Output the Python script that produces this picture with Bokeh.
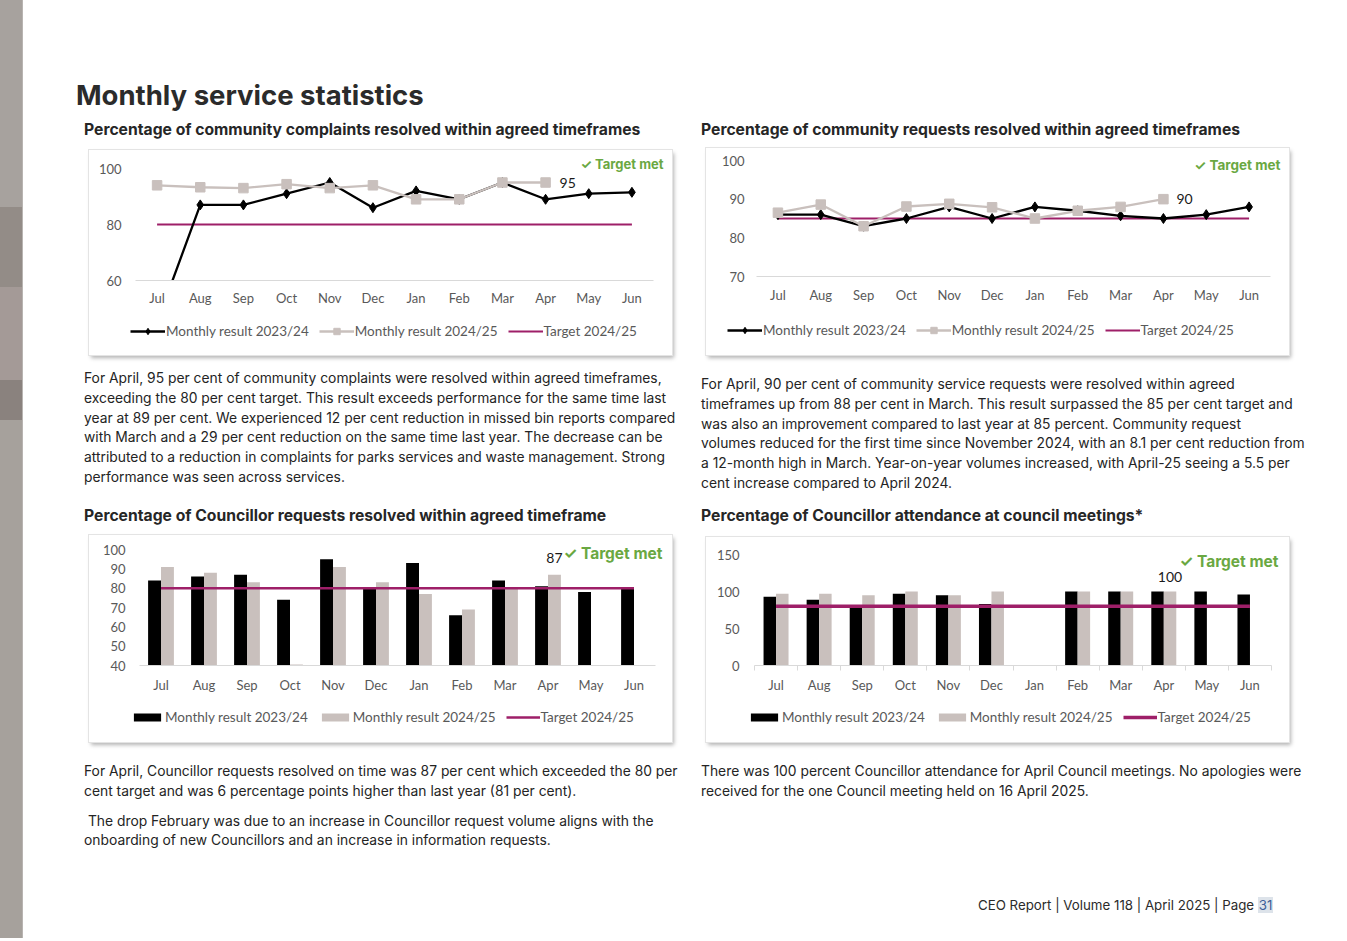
import numpy as np
from bokeh.plotting import figure
from bokeh.models import (Range1d, FixedTicker, Legend, LegendItem,
                          Label, Div, Spacer, ColumnDataSource)
from bokeh.layouts import row, column
from bokeh.transform import dodge
from bokeh.embed import file_html
from bokeh.resources import INLINE

nan = float("nan")

# ---------------- data ----------------
months = ["Jul", "Aug", "Sep", "Oct", "Nov", "Dec", "Jan", "Feb", "Mar", "Apr", "May", "Jun"]

complaints_2324 = [45, 87, 87, 91, 95, 86, 92, 89, 95, 89, 91, 91.5]
complaints_2425 = [94, 93.3, 93, 94.4, 93, 94, 89, 89, 95, 95, nan, nan]
complaints_target = [80, 80, 80, 80, 80, 80, 80, 80, 80, 80, 80, 80]

requests_2324 = [86, 86, 83, 85, 88, 85, 88, 87, 85.7, 85, 86, 88]
requests_2425 = [86.5, 88.6, 83, 88.1, 88.8, 87.9, 85, 87, 88, 90, nan, nan]
requests_target = [85, 85, 85, 85, 85, 85, 85, 85, 85, 85, 85, 85]

councillor_2324 = [84, 86, 87, 74, 95, 80, 93, 66, 84, 81, 78, 80]
councillor_2425 = [91, 88, 83, 40.5, 91, 83, 77, 69, 80, 87, nan, nan]
councillor_target = [80, 80, 80, 80, 80, 80, 80, 80, 80, 80, 80, 80]

attendance_2324 = [93, 89, 80, 97, 95, 83, nan, 100, 100, 100, 100, 96]
attendance_2425 = [97, 97, 95, 100, 95, 100, nan, 100, 100, 100, nan, nan]
attendance_target = [80, 80, 80, 80, 80, 80, 80, 80, 80, 80, 80, 80]

ticks_complaints = [60, 80, 100]
ticks_requests = [70, 80, 90, 100]
ticks_councillor = [40, 50, 60, 70, 80, 90, 100]
ticks_attendance = [0, 50, 100, 150]

legend_labels = ["Monthly result 2023/24", "Monthly result 2024/25", "Target 2024/25"]
target_met_text = "\u2713 Target met"

# category centres / boundaries on a numeric axis (one unit per month)
month_pos = [i + 0.5 for i in range(len(months))]
month_edges = [i for i in range(len(months) + 1)]

# ---------------- styles ----------------
BLACK = "#000000"
GREY = "#c9c0bd"
TARGET = "#9e1f68"
AXIS_TXT = "#595959"
GREEN = "#6aa842"
CHART_FONT = "Lato"
PAGE_FONT = "Inter, 'Open Sans', sans-serif"
CARD = {"box-shadow": "0 0 0 1px #e4e4e4, 2px 3px 4px rgba(0,0,0,0.30)"}


def base_fig(w, h, geo, ticks, y_standoff, x_standoff, edge_ticks=False):
    """geo = (cat_left, cat_span, bottom_px, top_px): pixel position (inside the card)
    of the month band and of the lowest / highest tick value.  The frame fills the
    whole card; the axes are pinned inside it."""
    cat_left, cat_span, bottom_px, top_px = geo
    n = len(months)
    ppx = cat_span / n
    y0, y1 = ticks[0], ticks[-1]
    ppy = (bottom_px - top_px) / (y1 - y0)
    x_start = -cat_left / ppx
    x_end = n + (w - cat_left - cat_span) / ppx
    y_end = y1 + top_px / ppy
    y_start = y0 - (h - bottom_px) / ppy
    p = figure(x_range=Range1d(x_start, x_end), y_range=Range1d(y_start, y_end),
               width=w, height=h, output_backend="svg", toolbar_location=None,
               min_border=0, outline_line_color=None, background_fill_color="white",
               border_fill_color="white", styles=CARD)
    p.xgrid.grid_line_color = None
    p.ygrid.grid_line_color = None
    p.yaxis.ticker = FixedTicker(ticks=ticks)
    p.xaxis.ticker = FixedTicker(ticks=month_pos, minor_ticks=month_edges)
    p.xaxis.major_label_overrides = {x: m for x, m in zip(month_pos, months)}
    p.xaxis.bounds = (0, n)
    p.xaxis.fixed_location = y0
    p.yaxis.fixed_location = 0
    for ax in (p.xaxis[0], p.yaxis[0]):
        ax.major_tick_line_color = None
        ax.minor_tick_line_color = None
        ax.major_tick_out = 0
        ax.major_tick_in = 0
        ax.minor_tick_in = 0
        ax.minor_tick_out = 0
        ax.major_label_text_font = CHART_FONT
        ax.major_label_text_font_size = "13px"
        ax.major_label_text_color = AXIS_TXT
    if edge_ticks:
        p.xaxis.minor_tick_line_color = "#d9d9d9"
        p.xaxis.minor_tick_out = 5
    p.xaxis.axis_line_color = "#d9d9d9"
    p.xaxis.major_label_standoff = x_standoff
    p.yaxis.axis_line_color = None
    p.yaxis.major_label_standoff = y_standoff
    return p


def add_legend(p, items, h, lx, center_px, gw, gh):
    ly = h - (center_px + gh / 2)
    leg = Legend(items=items, orientation="horizontal", location=(lx, ly),
                 background_fill_alpha=0, border_line_color=None, padding=0, margin=0,
                 spacing=10, glyph_width=gw, glyph_height=gh, label_height=gh,
                 label_standoff=1, label_text_font=CHART_FONT,
                 label_text_font_size="13.5px", label_text_color=AXIS_TXT)
    p.add_layout(leg)


def add_target_met(p, top_val, off, size):
    p.add_layout(Label(x=len(months), y=top_val, x_offset=off[0], y_offset=off[1],
                       text=target_met_text, text_align="right", text_baseline="middle",
                       text_font="Inter", text_font_size=size, text_font_style="bold",
                       text_color=GREEN))


def line_chart(a, b, t, w, h, geo, ticks, ys, xs, lx, lc, tm_off, tm_size, val_off):
    p = base_fig(w, h, geo, ticks, ys, xs)
    src = ColumnDataSource(dict(x=month_pos, a=a, b=b, t=t))
    lt = p.line("x", "t", source=src, line_color=TARGET, line_width=2)
    la = p.line("x", "a", source=src, line_color=BLACK, line_width=2.3)
    ma = p.scatter("x", "a", source=src, marker="diamond", size=10,
                   fill_color=BLACK, line_color=BLACK)
    lb = p.line("x", "b", source=src, line_color=GREY, line_width=2.3)
    mb = p.scatter("x", "b", source=src, marker="square", size=9.5,
                   fill_color=GREY, line_color=GREY)
    # white mask below the category axis (values under the axis minimum are cut off)
    p.quad(left=p.x_range.start, right=p.x_range.end, bottom=p.y_range.start,
           top=ticks[0], fill_color="white", line_color=None)
    add_legend(p, [LegendItem(label=legend_labels[0], renderers=[la, ma]),
                   LegendItem(label=legend_labels[1], renderers=[lb, mb]),
                   LegendItem(label=legend_labels[2], renderers=[lt])],
               h, lx, lc, 35, 16)
    add_target_met(p, ticks[-1], tm_off, tm_size)
    i = months.index("Apr")
    p.add_layout(Label(x=month_pos[i], y=b[i], x_offset=val_off[0], y_offset=val_off[1],
                       text=f"{b[i]:g}", text_align="left", text_baseline="middle",
                       text_font=CHART_FONT, text_font_size="14px", text_color="#1a1a1a"))
    return p


def bar_chart(a, b, t, w, h, geo, ticks, ys, xs, lx, lc, tm_off, tm_size,
              val_off, tw, bw, edge_ticks):
    p = base_fig(w, h, geo, ticks, ys, xs, edge_ticks)
    src = ColumnDataSource(dict(x=month_pos, a=a, b=b, t=t))
    ba = p.vbar(x=dodge("x", -bw / 2), top="a", bottom=ticks[0], width=bw,
                source=src, fill_color=BLACK, line_color=None)
    bb = p.vbar(x=dodge("x", bw / 2), top="b", bottom=ticks[0], width=bw,
                source=src, fill_color=GREY, line_color=None)
    lt = p.line("x", "t", source=src, line_color=TARGET, line_width=tw)
    add_legend(p, [LegendItem(label=legend_labels[0], renderers=[ba]),
                   LegendItem(label=legend_labels[1], renderers=[bb]),
                   LegendItem(label=legend_labels[2], renderers=[lt])],
               h, lx, lc, 34, 10)
    add_target_met(p, ticks[-1], tm_off, tm_size)
    i = months.index("Apr")
    p.add_layout(Label(x=month_pos[i] + bw / 2, y=b[i], x_offset=val_off[0],
                       y_offset=val_off[1], text=f"{b[i]:g}", text_align="center",
                       text_baseline="middle", text_font=CHART_FONT,
                       text_font_size="14px", text_color="#1a1a1a"))
    return p


p_tl = line_chart(complaints_2324, complaints_2425, complaints_target, 583, 205,
                  (46, 518, 130, 18), ticks_complaints, 14, 9, 41, 181,
                  (10, 5), "13px", (14, 0))
p_tr = line_chart(requests_2324, requests_2425, requests_target, 583, 207,
                  (50, 514, 128, 12), ticks_requests, 12, 10, 21, 182,
                  (10, -4), "13.5px", (13, 0))
p_bl = bar_chart(councillor_2324, councillor_2425, councillor_target, 583, 207,
                 (50, 516, 130, 14), ticks_councillor, 14, 11, 41, 185,
                 (7, -4), "15.5px", (0, 17), 2.5, 0.3, False)
p_br = bar_chart(attendance_2324, attendance_2425, attendance_target, 583, 205,
                 (48, 517, 128, 17), ticks_attendance, 15, 6, 41, 183,
                 (7, -7), "15.5px", (0, 15), 3.5, 0.29, True)


# ---------------- page text ----------------
def tdiv(html, w, h, pl, pt, size, weight=400, lh=19.8, color="#242424"):
    inner = (f'<div style="margin:0;padding:{pt}px 0 0 {pl}px;font-family:{PAGE_FONT};'
             f'font-size:{size}px;font-weight:{weight};line-height:{lh}px;color:{color};'
             f'white-space:nowrap;">{html}</div>')
    return Div(text=inner, width=w, height=h, margin=0, styles={"overflow": "visible"})


title_text = "Monthly service statistics"
sub_tl_text = "Percentage of community complaints resolved within agreed timeframes"
sub_tr_text = "Percentage of community requests resolved within agreed timeframes"
sub_bl_text = "Percentage of Councillor requests resolved within agreed timeframe"
sub_br_text = "Percentage of Councillor attendance at council meetings*"

par_tl_lines = [
    "For April, 95 per cent of community complaints were resolved within agreed timeframes,",
    "exceeding the 80 per cent target. This result exceeds performance for the same time last",
    "year at 89 per cent. We experienced 12 per cent reduction in missed bin reports compared",
    "with March and a 29 per cent reduction on the same time last year. The decrease can be",
    "attributed to a reduction in complaints for parks services and waste management. Strong",
    "performance was seen across services.",
]
par_tr_lines = [
    "For April, 90 per cent of community service requests were resolved within agreed",
    "timeframes up from 88 per cent in March. This result surpassed the 85 per cent target and",
    "was also an improvement compared to last year at 85 percent. Community request",
    "volumes reduced for the first time since November 2024, with an 8.1 per cent reduction from",
    "a 12-month high in March. Year-on-year volumes increased, with April-25 seeing a 5.5 per",
    "cent increase compared to April 2024.",
]
par_bl1_lines = [
    "For April, Councillor requests resolved on time was 87 per cent which exceeded the 80 per",
    "cent target and was 6 percentage points higher than last year (81 per cent).",
]
par_bl2_lines = [
    "&nbsp;The drop February was due to an increase in Councillor request volume aligns with the",
    "onboarding of new Councillors and an increase in information requests.",
]
par_br_lines = [
    "There was 100 percent Councillor attendance for April Council meetings. No apologies were",
    "received for the one Council meeting held on 16 April 2025.",
]
footer_html = ('CEO Report | Volume 118 | April 2025 | Page '
               '<span style="background:#dde3ea;color:#3d5f99;padding:0 1px;">31</span>')

PS = 13.85  # paragraph font size
SS = 15.7   # subtitle font size

header = tdiv(title_text, 1316, 112, 53, 79, 27.5, weight=700, lh=32, color="#2b2b2b")
sub_tl = tdiv(sub_tl_text, 667, 38, 61, 8, SS, weight=700, lh=20, color="#262626")
par_tl = tdiv("<br>".join(par_tl_lines), 667, 145, 61, 14, PS)
sub_bl = tdiv(sub_bl_text, 667, 35, 61, 6, SS, weight=700, lh=20, color="#262626")
par_bl = tdiv("<br>".join(par_bl1_lines)
              + '<div style="margin-top:10px">' + "<br>".join(par_bl2_lines) + "</div>",
              667, 118, 61, 20, PS)

sub_tr = tdiv(sub_tr_text, 649, 36, 11, 8, SS, weight=700, lh=20, color="#262626")
par_tr = tdiv("<br>".join(par_tr_lines), 649, 145, 11, 20, PS)
sub_br = tdiv(sub_br_text, 649, 37, 11, 6, SS, weight=700, lh=20, color="#262626")
par_br = tdiv("<br>".join(par_br_lines), 649, 118, 11, 20, PS)

footer = tdiv(footer_html, 1316, 65, 955, 35, 13.3, lh=20, color="#2b2b2b")

strip = Div(text="", width=23, height=938, margin=0, styles={
    "background": ("linear-gradient(to bottom, #a7a29e 0px, #a7a29e 207px, #938c87 207px, "
                   "#938c87 287px, #a49a97 287px, #a49a97 380px, #8a827e 380px, "
                   "#8a827e 420px, #a6a19c 420px, #a6a19c 938px)"),
    "border-right": "1px solid #b8b4b1"})

left = column(sub_tl, row(Spacer(width=66, height=205, margin=0), p_tl), par_tl,
              sub_bl, row(Spacer(width=66, height=207, margin=0), p_bl), par_bl)
right = column(sub_tr, row(Spacer(width=16, height=207, margin=0), p_tr), par_tr,
               sub_br, row(Spacer(width=16, height=205, margin=0), p_br), par_br)
main = column(header, row(left, right), footer)
page = row(strip, main)

open("out.html", "w").write(file_html(page, INLINE))
